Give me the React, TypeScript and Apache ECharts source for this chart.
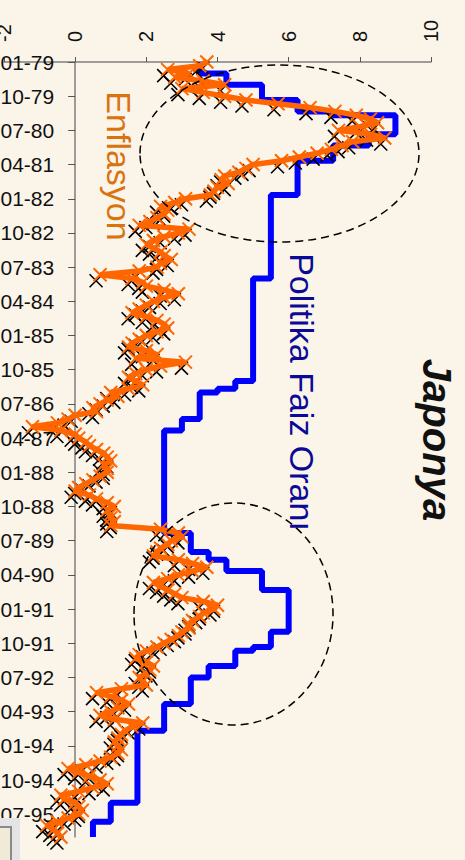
import React, { useEffect, useRef } from 'react';
import * as echarts from 'echarts';

// Category axis: monthly from 01-79 to 01-96 (labels MM-YY)
const FIRST_YEAR = 1979;
const LAST_YEAR = 1996;
const LAST_MONTH = 1;
function buildMonths(): string[] {
  const out: string[] = [];
  for (let y = FIRST_YEAR; y <= LAST_YEAR; y++) {
    for (let m = 1; m <= 12; m++) {
      if (y === LAST_YEAR && m > LAST_MONTH) break;
      out.push(String(m).padStart(2, '0') + '-' + String(y % 100).padStart(2, '0'));
    }
  }
  return out;
}
const months = buildMonths();

// Value axis
const valueMin = -2;
const valueMax = 10;
const valueStep = 2;

// Enflasyon (monthly, %)
const infl1979 = [3.7, 3.5, 2.6, 3.2, 2.8, 3.6, 4.2, 3.0, 3.6, 4.2, 4.8, 5.7];
const infl1980 = [6.6, 7.3, 7.9, 8.3, 8.5, 8.0, 7.4, 8.3, 8.7, 7.8, 7.5, 7.2];
const infl1981 = [6.8, 6.3, 5.8, 5.0, 4.8, 4.6, 4.2, 4.1, 4.3, 4.0, 3.9, 3.8];
const infl1982 = [3.1, 2.8, 2.4, 2.6, 2.5, 2.3, 2.1, 1.8, 3.2, 2.9, 2.5, 2.2];
const infl1983 = [2.0, 2.2, 2.4, 2.5, 2.7, 2.4, 2.3, 1.8, 0.7, 1.6, 1.9, 2.0];
const infl1984 = [2.5, 2.9, 2.5, 2.2, 2.0, 1.8, 1.6, 2.0, 2.3, 2.5, 2.6, 2.3];
const infl1985 = [2.0, 1.8, 1.6, 1.5, 2.0, 2.3, 1.7, 3.1, 2.4, 2.0, 1.7, 1.5];
const infl1986 = [1.7, 1.9, 1.5, 1.0, 1.2, 0.9, 0.7, 0.5, 0.6, 0.0, -0.2, -0.5];
const infl1987 = [-1.2, -0.4, 0.0, 0.1, 0.3, 0.4, 0.6, 0.8, 0.9, 1.0, 0.8, 0.9];
const infl1988 = [0.9, 0.7, 0.5, 0.3, 0.1, 0.0, 0.4, 0.6, 0.9, 1.1, 0.9, 1.0];
const infl1989 = [1.0, 1.1, 1.0, 2.4, 2.9, 3.0, 2.7, 2.6, 2.4, 2.3, 2.2, 2.9];
const infl1990 = [3.3, 3.7, 3.3, 2.9, 2.6, 2.2, 2.4, 2.6, 2.8, 3.0, 3.6, 4.0];
const infl1991 = [3.9, 3.6, 3.5, 3.3, 3.2, 3.2, 3.0, 2.9, 2.7, 2.5, 2.3, 2.0];
const infl1992 = [1.8, 1.7, 2.0, 2.2, 2.1, 2.0, 1.8, 1.9, 2.0, 1.3, 0.6, 1.0];
const infl1993 = [1.3, 1.5, 1.2, 1.0, 0.7, 1.1, 1.9, 1.6, 1.4, 1.3, 1.2, 1.1];
const infl1994 = [1.2, 1.3, 1.2, 1.0, 0.7, 0.3, -0.2, 0.1, 0.4, 0.7, 0.9, 0.5];
const infl1995 = [0.1, -0.4, -0.3, 0.0, 0.1, 0.2, 0.1, -0.2, -0.5, -0.8, -0.6, -0.5];
const infl1996 = [-0.4];
const inflation = [
  ...infl1979, ...infl1980, ...infl1981, ...infl1982, ...infl1983, ...infl1984,
  ...infl1985, ...infl1986, ...infl1987, ...infl1988, ...infl1989, ...infl1990,
  ...infl1991, ...infl1992, ...infl1993, ...infl1994, ...infl1995, ...infl1996,
];

// Politika Faiz Oranı (step changes: month, rate %)
const policyMonths = [
  '01-79', '04-79', '07-79', '11-79', '02-80', '03-80', '08-80', '11-80', '03-81', '12-81',
  '10-83', '01-86', '03-86', '04-86', '11-86', '02-87', '05-89', '10-89', '12-89', '03-90',
  '08-90', '07-91', '11-91', '12-91', '04-92', '07-92', '02-93', '09-93', '04-95', '09-95', '01-96',
];
const policyRates = [
  3.5, 4.25, 5.25, 6.25, 7.25, 9.0, 8.25, 7.25, 6.25, 5.5,
  5.0, 4.5, 4.0, 3.5, 3.0, 2.5, 3.25, 3.75, 4.25, 5.25,
  6.0, 5.5, 5.0, 4.5, 3.75, 3.25, 2.5, 1.75, 1.0, 0.5, 0.5,
];

const FONT = 'Liberation Sans, Arial, sans-serif';
const X_SYMBOL = 'path://M0,0L10,10M10,0L0,10';
const GRID_LEFT = 4;
const GRID_RIGHT = 34;
const WIDTH = 465;

export default function App() {
  const ref = useRef<HTMLDivElement>(null);

  useEffect(() => {
    document.body.style.margin = '0';
    const chart = echarts.init(ref.current!, null, { renderer: 'svg' });
    const inflData = inflation.map((v, i) => [v, months[i]]);
    const policyData = policyRates.map((v, i) => [v, policyMonths[i]]);
    // place the category axis at value 0 (shift from grid's left edge)
    const plotW = WIDTH - GRID_LEFT - GRID_RIGHT;
    const zeroShift = ((0 - valueMin) / (valueMax - valueMin)) * plotW;

    chart.setOption({
      animation: false,
      backgroundColor: '#FAF4E9',
      grid: { left: GRID_LEFT, right: GRID_RIGHT, top: 62, bottom: 23, containLabel: false, outerBoundsMode: 'none' },
      xAxis: {
        type: 'value',
        position: 'top',
        min: valueMin,
        max: valueMax,
        interval: valueStep,
        splitLine: { show: false },
        axisLine: { show: true, lineStyle: { color: '#7F7F7F', width: 1.5 } },
        axisTick: { show: true, length: 5, lineStyle: { color: '#555', width: 1 } },
        axisLabel: { rotate: -90, margin: 20, fontSize: 20, color: '#111', fontFamily: FONT },
      },
      yAxis: {
        type: 'category',
        inverse: true,
        boundaryGap: false,
        data: months,
        offset: -zeroShift,
        splitLine: { show: false },
        axisLine: { show: true, onZero: false, lineStyle: { color: '#7F7F7F', width: 1.5 } },
        axisTick: { show: true, interval: 8, length: 7, lineStyle: { color: '#555', width: 1 } },
        axisLabel: { interval: 8, margin: 21, fontSize: 21, color: '#111', fontFamily: FONT },
      },
      series: [
        {
          name: 'Politika Faiz Oranı',
          type: 'line',
          step: 'end',
          data: policyData,
          symbol: 'none',
          silent: true,
          lineStyle: { color: '#0000FF', width: 6 },
          z: 2,
        },
        {
          name: 'shadow',
          type: 'line',
          data: inflData,
          symbol: X_SYMBOL,
          symbolSize: 13,
          symbolOffset: [-4, 6],
          showAllSymbol: true,
          silent: true,
          lineStyle: { width: 0, opacity: 0 },
          itemStyle: { color: '#000', borderColor: '#000', borderWidth: 1.6 },
          z: 3,
        },
        {
          name: 'Enflasyon',
          type: 'line',
          data: inflData,
          symbol: X_SYMBOL,
          symbolSize: 13,
          showAllSymbol: true,
          silent: true,
          lineStyle: { color: '#FF6600', width: 5.5 },
          itemStyle: { color: '#FF6600', borderColor: '#FF6600', borderWidth: 2 },
          z: 4,
        },
      ],
      graphic: [
        {
          type: 'ellipse', z: 100, silent: true,
          shape: { cx: 279.5, cy: 153.5, rx: 139.5, ry: 88.5 },
          style: { fill: 'none', stroke: '#000', lineWidth: 1.5, lineDash: [8, 5] },
        },
        {
          type: 'ellipse', z: 100, silent: true,
          shape: { cx: 233.5, cy: 614, rx: 99.5, ry: 111 },
          style: { fill: 'none', stroke: '#000', lineWidth: 1.5, lineDash: [8, 5] },
        },
        {
          type: 'text', z: 101, x: 437, y: 440, rotation: -Math.PI / 2, silent: true,
          style: {
            text: 'Japonya', fontSize: 40, fontWeight: 'bold', fontStyle: 'italic', fontFamily: FONT,
            fill: '#111', textAlign: 'center', textVerticalAlign: 'middle', align: 'center', verticalAlign: 'middle',
          },
        },
        {
          type: 'text', z: 101, x: 302, y: 392, rotation: -Math.PI / 2, silent: true,
          style: {
            text: 'Politika Faiz Oranı', fontSize: 34, fontFamily: FONT,
            fill: '#0A0A96', textAlign: 'center', textVerticalAlign: 'middle', align: 'center', verticalAlign: 'middle',
          },
        },
        {
          type: 'text', z: 101, x: 119, y: 166, rotation: -Math.PI / 2, silent: true,
          style: {
            text: 'Enflasyon', fontSize: 34, fontFamily: FONT,
            fill: '#D9730F', textAlign: 'center', textVerticalAlign: 'middle', align: 'center', verticalAlign: 'middle',
          },
        },
        {
          type: 'rect', z: 102, silent: true,
          shape: { x: 0, y: 818, width: 20, height: 42 },
          style: { fill: '#E4E4E4' },
        },
        {
          type: 'rect', z: 103, silent: true,
          shape: { x: -2, y: 827, width: 13, height: 40 },
          style: { fill: '#EFEBD6', stroke: '#8A8A8A', lineWidth: 2 },
        },
      ],
    });
    return () => chart.dispose();
  }, []);

  return (
    <div
      ref={ref}
      style={{ position: 'fixed', left: 0, top: 0, width: 465, height: 860, background: '#FAF4E9' }}
    />
  );
}
